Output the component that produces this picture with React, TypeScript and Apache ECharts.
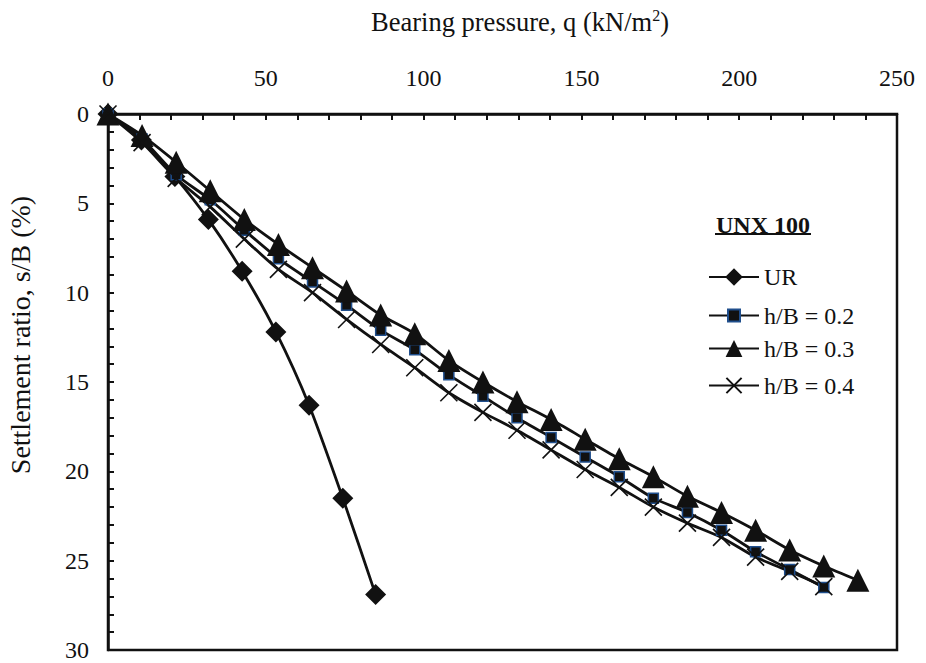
import React, { useEffect, useRef } from "react";
import * as echarts from "echarts";

const urQ = [0, 10.6, 21.2, 31.8, 42.5, 53.2, 63.7, 74.4, 84.8];
const urS = [0, 1.45, 3.5, 5.9, 8.8, 12.2, 16.3, 21.5, 26.9];

const q = [0, 10.8, 21.6, 32.4, 43.2, 54, 64.8, 75.6, 86.4, 97.2, 108, 118.8, 129.6, 140.4, 151.2, 162, 172.8, 183.6, 194.4, 205.2, 216, 226.8, 237.6];
const s02 = [0, 1.4, 3.4, 4.8, 6.5, 8.1, 9.4, 10.7, 12.1, 13.2, 14.6, 15.8, 17.0, 18.1, 19.2, 20.3, 21.5, 22.3, 23.3, 24.5, 25.5, 26.5];
const s03 = [0, 1.2, 2.7, 4.3, 5.9, 7.3, 8.6, 9.9, 11.25, 12.3, 13.8, 15.0, 16.1, 17.1, 18.2, 19.3, 20.3, 21.4, 22.3, 23.3, 24.4, 25.3, 26.1];
const s04 = [0, 1.6, 3.6, 5.2, 7.0, 8.7, 10.0, 11.5, 12.9, 14.2, 15.6, 16.7, 17.7, 18.8, 19.9, 20.9, 22.0, 22.9, 23.7, 24.8, 25.6, 26.45];

const seriesNames = ["UR", "h/B = 0.2", "h/B = 0.3", "h/B = 0.4"];
const xTicks = [0, 50, 100, 150, 200, 250];
const yTicks = [0, 5, 10, 15, 20, 25, 30];

const FONT = "Liberation Serif";
const INK = "#111111";

const pairs = (xs: number[], ys: number[]) => ys.map((y, i) => [xs[i], y]);

export default function App() {
  const ref = useRef<HTMLDivElement>(null);
  useEffect(() => {
    document.body.style.margin = "0";
    const chart = echarts.init(ref.current!, undefined, { renderer: "svg" });
    const lineBase = {
      type: "line" as const,
      smooth: 0.25,
      lineStyle: { color: INK, width: 2.8 },
      itemStyle: { color: INK },
      emphasis: { disabled: true },
    };
    const legendCenters = [276, 311, 347, 383];
    const legendHeights = [22, 15, 21, 19];
    const legends = seriesNames.map((name, i) => ({
      orient: "horizontal",
      left: 708,
      top: legendCenters[i] - legendHeights[i] / 2,
      padding: 0,
      itemWidth: 50,
      itemHeight: legendHeights[i],
      selectedMode: false,
      textStyle: { color: INK, fontFamily: FONT, fontSize: 24 },
      data: [name],
    }));
    chart.setOption({
      animation: false,
      backgroundColor: "#ffffff",
      grid: {
        left: 108,
        top: 114,
        width: 789,
        height: 536,
        show: true,
        borderColor: INK,
        borderWidth: 2.5,
        backgroundColor: "transparent",
      },
      xAxis: {
        type: "value",
        position: "top",
        min: xTicks[0],
        max: xTicks[xTicks.length - 1],
        interval: 50,
        axisLine: { show: true, lineStyle: { color: INK, width: 2.5 } },
        axisTick: { show: true, inside: true, length: 6, lineStyle: { color: INK, width: 2 } },
        minorTick: { show: true, splitNumber: 5, length: 6, lineStyle: { color: INK, width: 2 } },
        splitLine: { show: false },
        axisLabel: { color: INK, fontFamily: FONT, fontSize: 24, margin: 24 },
      },
      yAxis: {
        type: "value",
        inverse: true,
        min: yTicks[0],
        max: yTicks[yTicks.length - 1],
        interval: 5,
        axisLine: { show: true, lineStyle: { color: INK, width: 2.5 } },
        axisTick: { show: true, inside: true, length: 6, lineStyle: { color: INK, width: 2 } },
        minorTick: { show: true, splitNumber: 5, length: 6, lineStyle: { color: INK, width: 2 } },
        splitLine: { show: false },
        axisLabel: { color: INK, fontFamily: FONT, fontSize: 24, margin: 19 },
      },
      legend: legends,
      series: [
        {
          ...lineBase,
          name: seriesNames[0],
          symbol: "diamond",
          symbolSize: 21,
          data: pairs(urQ, urS),
        },
        {
          ...lineBase,
          name: seriesNames[1],
          symbol: "rect",
          symbolSize: 10,
          itemStyle: { color: INK, borderColor: "#1f4e8c", borderWidth: 1.5 },
          data: pairs(q, s02),
        },
        {
          ...lineBase,
          name: seriesNames[2],
          symbol: "triangle",
          symbolSize: 23,
          data: pairs(q, s03),
        },
        {
          ...lineBase,
          name: seriesNames[3],
          symbol: "path://M0,0L10,10M10,0L0,10",
          symbolSize: 17,
          itemStyle: { color: "none", borderColor: INK, borderWidth: 1.6 },
          data: pairs(q, s04),
        },
      ],
      graphic: [
        {
          type: "text",
          x: 520,
          y: 22,
          style: {
            text: "{a|Bearing pressure, q (kN/m}{s|2}{a|)}",
            align: "center",
            verticalAlign: "middle",
            rich: {
              a: { fontFamily: FONT, fontSize: 26.5, fill: INK },
              s: { fontFamily: FONT, fontSize: 16, fill: INK, verticalAlign: "top", padding: [0, 0, 13, 0] },
            },
          },
        },
        {
          type: "text",
          x: 20,
          y: 335,
          rotation: Math.PI / 2,
          style: {
            text: "Settlement ratio, s/B (%)",
            align: "center",
            verticalAlign: "middle",
            fontFamily: FONT,
            fontSize: 28,
            fill: INK,
          },
        },
        {
          type: "text",
          x: 763,
          y: 225,
          style: {
            text: "UNX 100",
            align: "center",
            verticalAlign: "middle",
            fontFamily: FONT,
            fontSize: 24,
            fontWeight: "bold",
            fill: INK,
          },
        },
        {
          type: "line",
          shape: { x1: 715, y1: 234, x2: 811, y2: 234 },
          style: { stroke: INK, lineWidth: 2 },
        },
      ],
    });
    return () => chart.dispose();
  }, []);
  return <div ref={ref} style={{ width: 926, height: 663 }} />;
}
